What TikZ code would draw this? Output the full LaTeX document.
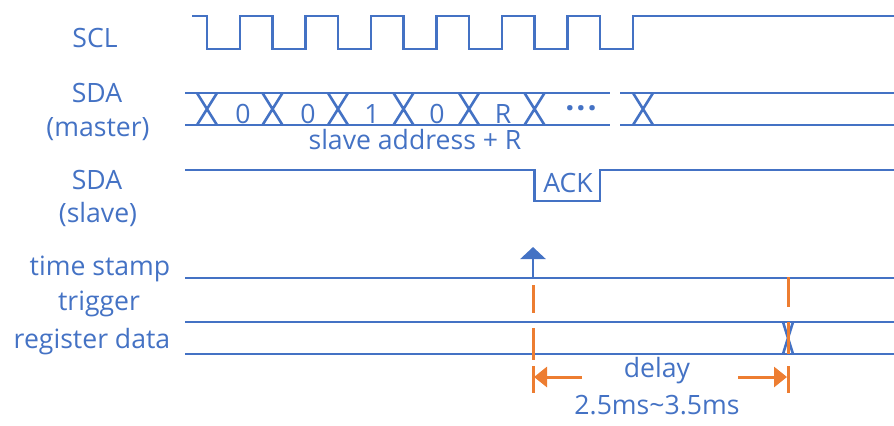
\documentclass[tikz,border=0pt]{standalone}
\usepackage{fontspec}
\setmainfont{Open Sans}
\usetikzlibrary{arrows.meta}
\definecolor{sigblue}{HTML}{4472C4}
\definecolor{sigorange}{HTML}{ED7D31}
\begin{document}
\begin{tikzpicture}[x=0.5pt,y=-0.5pt,
  wave/.style={draw=sigblue,line width=1.3pt,line join=miter},
  lbl/.style={text=sigblue,font=\fontsize{13.3}{15}\selectfont,inner sep=0pt,anchor=base},
  orangemark/.style={draw=sigorange,line width=1.5pt},
  dimarrow/.style={draw=sigorange,line width=1.5pt,-{Triangle[width=10pt,length=6.5pt]}}]
\useasboundingbox (0,0) rectangle (894,425);
% labels
\node[lbl] (lscl) at (95,47) {SCL};
\node[lbl] (lsdam) at (97,102) {SDA};
\node[lbl] (lmaster) at (98,136) {(master)};
\node[lbl] (lsdas) at (97,189) {SDA};
\node[lbl] (lslave) at (98,222) {(slave)};
\node[lbl] (lts) at (100,275) {time stamp};
\node[lbl] (ltrig) at (99,310) {trigger};
\node[lbl] (lreg) at (92,348) {register data};
% SCL
\draw[wave] (192,16) -- (207,16) -- (207,49) -- (240,49) -- (240,16)
  -- (272.5,16) -- (272.5,49) -- (305.5,49) -- (305.5,16)
  -- (338,16) -- (338,49) -- (371,49) -- (371,16)
  -- (403.5,16) -- (403.5,49) -- (436.5,49) -- (436.5,16)
  -- (469,16) -- (469,49) -- (502,49) -- (502,16)
  -- (534.5,16) -- (534.5,49) -- (567.5,49) -- (567.5,16)
  -- (600,16) -- (600,49) -- (633,49) -- (633,16) -- (894,16);
% SDA master bus
\draw[wave] (185,93) -- (610,93) (185,125) -- (610,125);
\draw[wave] (620,93) -- (894,93) (620,125) -- (894,125);
\foreach \c in {207,272.5,338,403.5,469,534.5,643}{
  \draw[wave] (\c-10,93) -- (\c+10,125) (\c-10,125) -- (\c+10,93);
}
\node[lbl] (d1) at (243,123) {0};
\node[lbl] (d2) at (308,123) {0};
\node[lbl] (d3) at (372,123) {1};
\node[lbl] (d4) at (437,123) {0};
\node[lbl] (d5) at (503,123) {R};
\node[lbl,font=\fontsize{16}{18}\selectfont\bfseries] (d6) at (581,119) {·\kern1pt·\kern1pt·};
\node[lbl] (addr) at (415,149) {slave address + R};
% SDA slave
\draw[wave] (185,170) -- (534.5,170) -- (534.5,201) -- (600,201) -- (600,170) -- (894,170);
\node[lbl] (ack) at (568,192) {ACK};
% time stamp trigger and register data
\draw[wave] (185,278) -- (894,278);
\draw[wave] (185,322) -- (894,322);
\draw[wave] (185,354) -- (894,354);
\draw[wave] (783,322) -- (793,354) (783,354) -- (793,322);
% trigger arrow
\coordinate (tsbase) at (533,278);
\coordinate (tstip) at (533,247);
\draw[draw=sigblue,fill=sigblue,line width=1.3pt,-{Triangle[width=12.5pt,length=6pt]}] (tsbase) -- (tstip);
% orange markers
\draw[orangemark] (533,285) -- (533,313);
\draw[orangemark] (533,328) -- (533,360);
\draw[orangemark] (788,277) -- (788,307);
\draw[orangemark] (788,322) -- (788,354);
% delay dimension
\coordinate (la) at (582,377);
\coordinate (lb) at (534,377);
\coordinate (ra) at (738,377);
\coordinate (rb) at (787,377);
\draw[dimarrow] (la) -- (lb);
\draw[dimarrow] (ra) -- (rb);
\draw[orangemark] (533,366) -- (533,393);
\draw[orangemark] (788,366) -- (788,393);
\node[lbl] (delay) at (657,377) {delay};
\node[lbl] (range) at (657,414) {2.5ms{\char"7E}3.5ms};
\end{tikzpicture}
\end{document}
